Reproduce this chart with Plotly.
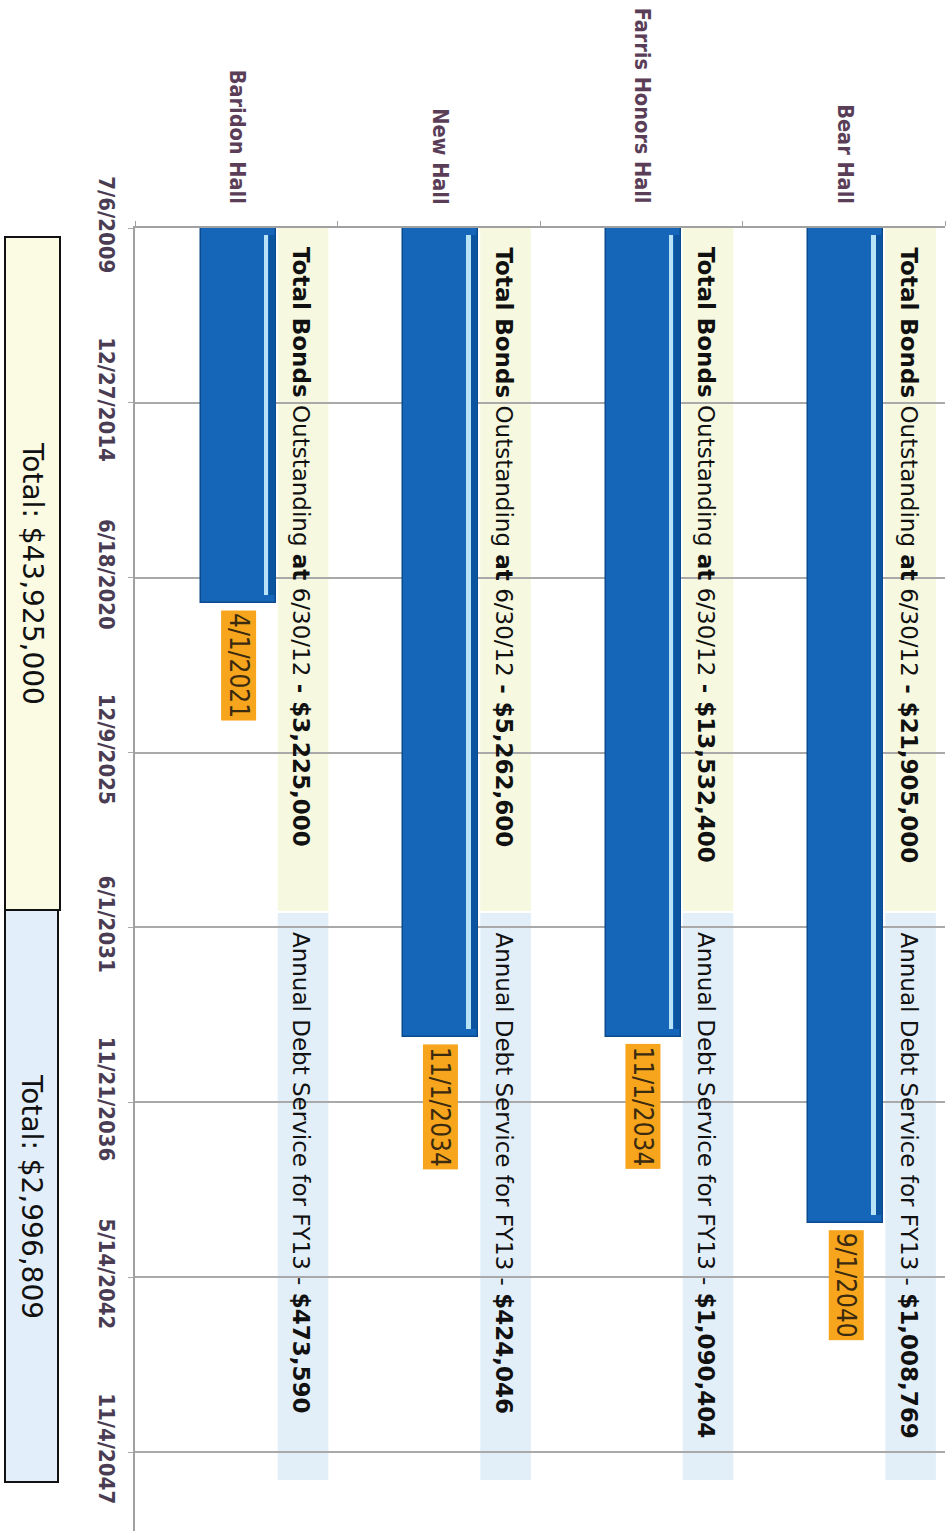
import plotly.graph_objects as go
import pandas as pd

# ---------------- data ----------------
halls = ["Baridon Hall", "New Hall", "Farris Honors Hall", "Bear Hall"]
start_dates = ["2009-07-06", "2009-07-06", "2009-07-06", "2009-07-06"]
end_dates = ["2021-04-01", "2034-11-01", "2034-11-01", "2040-09-01"]
end_labels = ["4/1/2021", "11/1/2034", "11/1/2034", "9/1/2040"]
bonds_outstanding = ["$3,225,000", "$5,262,600", "$13,532,400", "$21,905,000"]
debt_service = ["$473,590", "$424,046", "$1,090,404", "$1,008,769"]
total_bonds = "$43,925,000"
total_debt = "$2,996,809"
tick_dates = ["2009-07-06", "2014-12-27", "2020-06-18", "2025-12-09",
              "2031-06-01", "2036-11-21", "2042-05-14", "2047-11-04"]
tick_labels = ["7/6/2009", "12/27/2014", "6/18/2020", "12/9/2025",
               "6/1/2031", "11/21/2036", "5/14/2042", "11/4/2047"]
axis_start = "2009-07-06"
axis_end = "2050-04-25"

# ---------------- layout constants ----------------
W, H = 949, 1531
ML, MR, MT, MB = 135, 4, 228, 0
PW, PH = W - ML - MR, H - MT - MB


def px_x(p):
    return (p - ML) / PW


def px_y(p):
    return 1 - (p - MT) / PH


pos = [i + 0.51 for i in range(len(halls))]
s = pd.to_datetime(start_dates)
e = pd.to_datetime(end_dates)
dur = [(b - a).total_seconds() * 1000 for a, b in zip(s, e)]
hl_base = [(a + pd.Timedelta(days=80)).strftime("%Y-%m-%d") for a in s]
hl_dur = [((b - pd.Timedelta(days=90)) - (a + pd.Timedelta(days=80))).total_seconds() * 1000
          for a, b in zip(s, e)]

BAR_W = 0.37
fig = go.Figure()
fig.add_trace(go.Bar(x=pos, y=dur, base=start_dates, width=BAR_W,
                     marker=dict(color="#1566b8", line=dict(color="#0b4a8e", width=1.5)),
                     hoverinfo="skip", showlegend=False))
# right dark edge
fig.add_trace(go.Bar(x=pos, y=hl_dur, base=hl_base, width=0.03, offset=BAR_W / 2 - 0.035,
                     marker=dict(color="#0a54a0", line=dict(width=0)),
                     hoverinfo="skip", showlegend=False))
# highlight strip
fig.add_trace(go.Bar(x=pos, y=hl_dur, base=hl_base, width=0.022, offset=BAR_W / 2 - 0.06,
                     marker=dict(color="#b8e2f6", line=dict(width=0)),
                     hoverinfo="skip", showlegend=False))

shapes = []
annotations = []
FONT = "DejaVu Sans"
FONT_C = "DejaVu Sans Condensed"
for i, h in enumerate(halls):
    # yellow & blue label bands
    shapes.append(dict(type="rect", xref="x", yref="paper", layer="below",
                       x0=i + 0.705, x1=i + 0.955, y0=px_y(228), y1=px_y(911),
                       fillcolor="#f6f9df", line=dict(width=0)))
    shapes.append(dict(type="rect", xref="x", yref="paper", layer="below",
                       x0=i + 0.705, x1=i + 0.955, y0=px_y(913), y1=px_y(1480),
                       fillcolor="#e3eff8", line=dict(width=0)))
    # category label
    annotations.append(dict(x=pos[i], y=1, xref="x", yref="paper", yanchor="bottom",
                            xanchor="center", yshift=22, textangle=90, showarrow=False,
                            text="<b>" + h + "</b>",
                            font=dict(family=FONT_C, size=21.5, color="#5a3e58")))
    # bonds label
    annotations.append(dict(x=i + 0.82, y=px_y(245), xref="x", yref="paper", yanchor="top",
                            xanchor="center", textangle=90, showarrow=False,
                            text="<b>Total Bonds</b> Outstanding <b>at</b> 6/30/12 <b>- " + bonds_outstanding[i] + "</b>",
                            font=dict(family=FONT, size=23, color="#111111")))
    # debt service label
    annotations.append(dict(x=i + 0.82, y=px_y(930), xref="x", yref="paper", yanchor="top",
                            xanchor="center", textangle=90, showarrow=False,
                            text="Annual Debt Service for FY13 - <b>" + debt_service[i] + "</b>",
                            font=dict(family=FONT, size=23, color="#111111")))
    # end date label
    annotations.append(dict(x=pos[i], y=end_dates[i], xref="x", yref="y", yanchor="top",
                            xanchor="center", yshift=-7, textangle=90, showarrow=False,
                            text=end_labels[i], bgcolor="#f6a51d", borderpad=2,
                            font=dict(family=FONT_C, size=26, color="#3a2a10")))

# total boxes
shapes.append(dict(type="rect", xref="paper", yref="paper",
                   x0=px_x(5), x1=px_x(60), y0=px_y(910), y1=px_y(237),
                   fillcolor="#fafbe2", line=dict(color="#111111", width=2)))
shapes.append(dict(type="rect", xref="paper", yref="paper",
                   x0=px_x(5), x1=px_x(58), y0=px_y(1482), y1=px_y(910),
                   fillcolor="#e2eef9", line=dict(color="#111111", width=2)))
annotations.append(dict(x=px_x(33), y=px_y(573), xref="paper", yref="paper",
                        xanchor="center", yanchor="middle",
                        textangle=90, showarrow=False, text="Total: " + total_bonds,
                        font=dict(family=FONT, size=28, color="#111111")))
annotations.append(dict(x=px_x(32), y=px_y(1196), xref="paper", yref="paper",
                        xanchor="center", yanchor="middle",
                        textangle=90, showarrow=False, text="Total: " + total_debt,
                        font=dict(family=FONT, size=28, color="#111111")))

fig.update_layout(
    width=W, height=H,
    margin=dict(l=ML, r=MR, t=MT, b=MB),
    paper_bgcolor="white", plot_bgcolor="white",
    shapes=shapes, annotations=annotations,
    bargap=0, barmode="overlay",
    xaxis=dict(range=[0, 4], side="top", showgrid=False, zeroline=False,
               showline=True, linecolor="#a0a0a0", linewidth=1.5,
               tickvals=[0, 1, 2, 3, 4], ticks="outside", ticklen=5,
               tickcolor="#a0a0a0", showticklabels=False, fixedrange=True),
    yaxis=dict(type="date", range=[axis_end, axis_start],
               tickvals=tick_dates, ticktext=["<b>" + t + "</b>" for t in tick_labels],
               tickangle=90,
               showgrid=True, gridcolor="#a9a9a9", gridwidth=1.5,
               showline=True, linecolor="#a0a0a0", linewidth=1.5,
               ticks="outside", ticklen=5, tickcolor="#a9a9a9",
               ticklabelstandoff=3, zeroline=False,
               tickfont=dict(family=FONT_C, size=22, color="#4a3c52")),
)

fig.write_html("out.html", config={"displayModeBar": False},
               post_script="document.body.style.margin='0';document.body.style.overflow='hidden';")
